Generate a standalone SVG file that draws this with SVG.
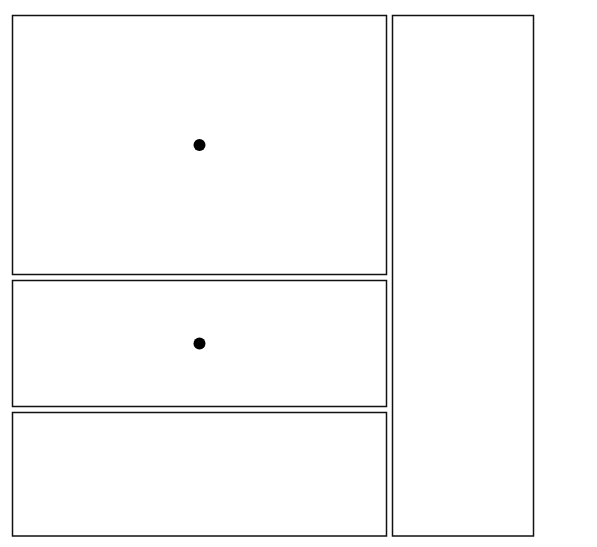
<svg xmlns="http://www.w3.org/2000/svg" width="597" height="547" viewBox="0 0 597 547">
<style>
.box{fill:#fff;stroke:#111;stroke-width:1.5}
.dot{fill:#000}
</style>
<rect width="597" height="547" fill="#fff"/>
<g id="panel-top"><rect class="box" x="12.5" y="15.5" width="374" height="259"/><circle class="dot" cx="199.5" cy="145" r="6"/></g>
<g id="panel-middle"><rect class="box" x="12.5" y="280.5" width="374" height="126"/><circle class="dot" cx="199.5" cy="343.5" r="6"/></g>
<g id="panel-bottom"><rect class="box" x="12.5" y="412.5" width="374" height="123.5"/></g>
<g id="panel-right"><rect class="box" x="392.5" y="15.5" width="141" height="520.5"/></g>
<g id="connectors"></g>
</svg>
